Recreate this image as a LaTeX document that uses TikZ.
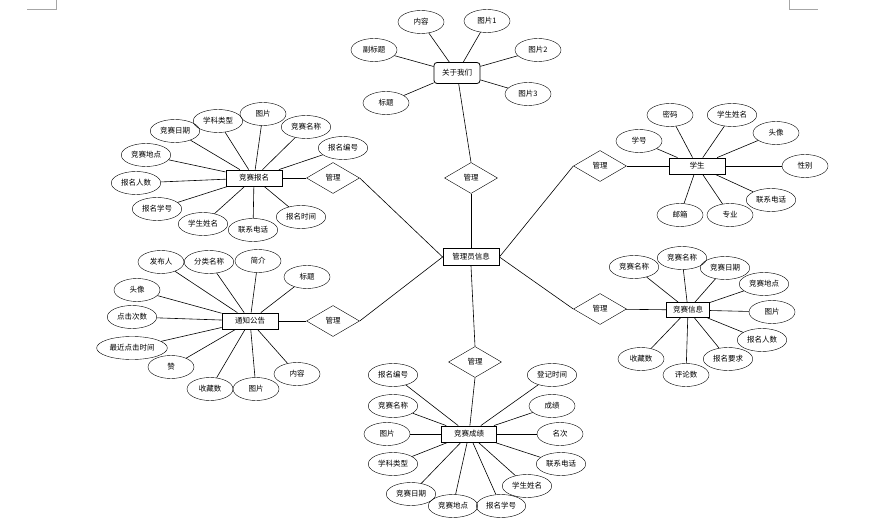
\documentclass[tikz,border=0pt]{standalone}
\usepackage{fontspec}
\setmainfont{Noto Sans CJK SC}
\usepackage{tikz}
\usetikzlibrary{shapes.geometric}

\begin{document}
\begin{tikzpicture}[x=1pt, y=-1pt,
  font=\fontsize{7.5}{8.5}\selectfont,
  entity/.style={draw, thick, minimum width=56pt, minimum height=16pt, inner sep=1pt},
  attr/.style={draw, ellipse, minimum width=46pt, minimum height=23pt, inner xsep=2.5pt, inner ysep=1pt},
  relation/.style={draw, diamond, aspect=1.7, minimum width=53pt, minimum height=31pt, inner sep=0pt},
  line/.style={semithick},
  cornermark/.style={gray!70, line width=0.6pt}
]
\useasboundingbox (0,0) rectangle (885,526);
% page corner marks
\draw[cornermark] (27,9) -- (56,9) -- (56,0);
\draw[cornermark] (789,0) -- (789,9) -- (818,9);

% centre
\node[entity, minimum width=56pt, minimum height=17pt] (admin) at (471,257) {管理员信息};

% about us
\node[entity, rounded corners=3pt, minimum width=46pt, minimum height=21pt] (about) at (457,73) {关于我们};
\node[relation] (r1) at (471,178) {管理};
\node[attr] (a1) at (421,22) {内容};
\node[attr] (a2) at (487,21) {图片1};
\node[attr] (a3) at (538,50) {图片2};
\node[attr] (a4) at (528,94) {图片3};
\node[attr] (a5) at (374,50) {副标题};
\node[attr] (a6) at (386,103) {标题};
\draw[line] (about) -- (r1.north);
\draw[line] (r1.south) -- (admin.north);
\foreach \n in {a1,a2,a3,a4,a5,a6} \draw[line] (about) -- (\n);

% sign-up
\node[entity] (signup) at (254,178) {竞赛报名};
\node[relation] (r2) at (333,178) {管理};
\node[attr] (b1) at (175,131) {竞赛日期};
\node[attr] (b2) at (218,121) {学科类型};
\node[attr] (b3) at (263,114) {图片};
\node[attr] (b4) at (306,127) {竞赛名称};
\node[attr] (b5) at (343,148) {报名编号};
\node[attr] (b6) at (146,155) {竞赛地点};
\node[attr] (b7) at (136,183) {报名人数};
\node[attr] (b8) at (157,209) {报名学号};
\node[attr] (b9) at (203,224) {学生姓名};
\node[attr] (b10) at (253,230) {联系电话};
\node[attr] (b11) at (301,217) {报名时间};
\draw[line] (signup) -- (r2);
\draw[line] (r2.east) -- (admin.west);
\foreach \n in {b1,b2,b3,b4,b5,b6,b7,b8,b9,b10,b11} \draw[line] (signup) -- (\n);

% student
\node[entity] (stu) at (697,166) {学生};
\node[relation] (r3) at (600,166) {管理};
\node[attr] (c1) at (670,115) {密码};
\node[attr] (c2) at (732,115) {学生姓名};
\node[attr] (c3) at (639,141) {学号};
\node[attr] (c4) at (776,133) {头像};
\node[attr] (c5) at (805,166) {性别};
\node[attr] (c6) at (771,200) {联系电话};
\node[attr] (c7) at (730,215) {专业};
\node[attr] (c8) at (680,215) {邮箱};
\draw[line] (r3) -- (stu);
\draw[line] (r3.west) -- (admin.east);
\foreach \n in {c1,c2,c3,c4,c5,c6,c7,c8} \draw[line] (stu) -- (\n);

% notice
\node[entity] (notice) at (250,321) {通知公告};
\node[relation] (r4) at (333,321) {管理};
\node[attr] (d1) at (161,262) {发布人};
\node[attr] (d2) at (209,262) {分类名称};
\node[attr] (d3) at (258,261) {简介};
\node[attr] (d4) at (307,277) {标题};
\node[attr] (d5) at (137,290) {头像};
\node[attr] (d6) at (132,317) {点击次数};
\node[attr] (d7) at (132,348) {最近点击时间};
\node[attr] (d8) at (171,367) {赞};
\node[attr] (d9) at (210,389) {收藏数};
\node[attr] (d10) at (256,389) {图片};
\node[attr] (d11) at (297,374) {内容};
\draw[line] (notice) -- (r4);
\draw[line] (r4.east) -- (admin.west);
\foreach \n in {d1,d2,d3,d4,d5,d6,d7,d8,d9,d10,d11} \draw[line] (notice) -- (\n);

% contest info
\node[entity, minimum width=43pt, minimum height=15pt] (info) at (688,310) {竞赛信息};
\node[relation] (r5) at (600,309) {管理};
\node[attr] (e1) at (634,267) {竞赛名称};
\node[attr] (e2) at (682,258) {竞赛名称};
\node[attr] (e3) at (725,268) {竞赛日期};
\node[attr] (e4) at (764,284) {竞赛地点};
\node[attr] (e5) at (772,312) {图片};
\node[attr] (e6) at (762,340) {报名人数};
\node[attr] (e7) at (728,359) {报名要求};
\node[attr] (e8) at (686,375) {评论数};
\node[attr] (e9) at (641,359) {收藏数};
\draw[line] (r5) -- (info);
\draw[line] (r5.west) -- (admin.east);
\foreach \n in {e1,e2,e3,e4,e5,e6,e7,e8,e9} \draw[line] (info) -- (\n);

% results
\node[entity, minimum width=55pt] (score) at (469,434) {竞赛成绩};
\node[relation] (r6) at (475,362) {管理};
\node[attr] (f1) at (393,375) {报名编号};
\node[attr] (f2) at (393,406) {竞赛名称};
\node[attr] (f3) at (387,434) {图片};
\node[attr] (f4) at (393,464) {学科类型};
\node[attr] (f5) at (411,494) {竞赛日期};
\node[attr] (f6) at (453,506) {竞赛地点};
\node[attr] (f7) at (501,506) {报名学号};
\node[attr] (f8) at (527,486) {学生姓名};
\node[attr] (f9) at (561,464) {联系电话};
\node[attr] (f10) at (560,434) {名次};
\node[attr] (f11) at (552,406) {成绩};
\node[attr] (f12) at (552,375) {登记时间};
\draw[line] (admin.south) -- (r6.north);
\draw[line] (r6.south) -- (score);
\foreach \n in {f1,f2,f3,f4,f5,f6,f7,f8,f9,f10,f11,f12} \draw[line] (score) -- (\n);
\end{tikzpicture}
\end{document}
